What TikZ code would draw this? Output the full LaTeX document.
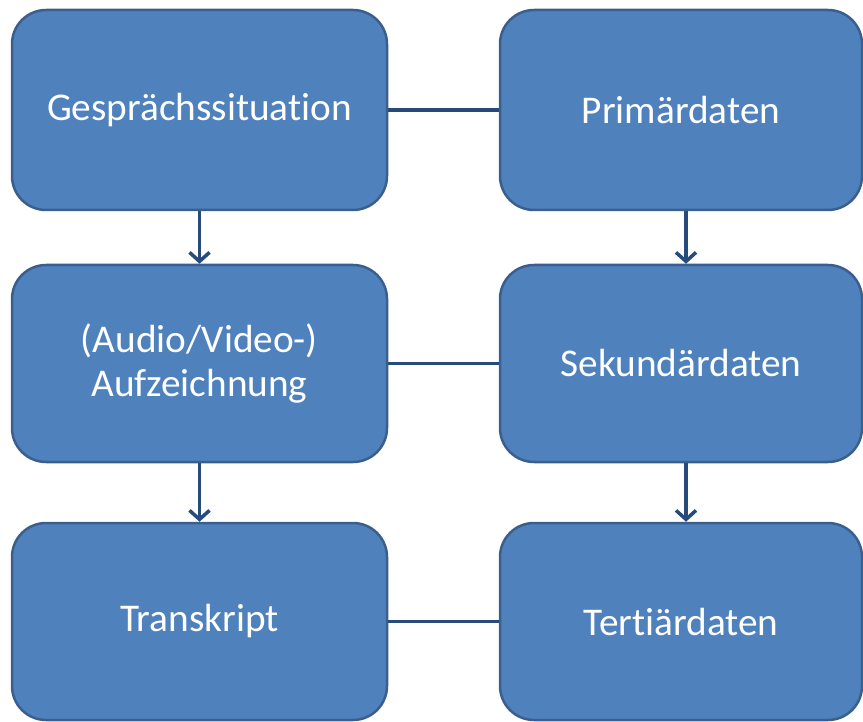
\documentclass[tikz,border=0pt]{standalone}
\usepackage{fontspec}
\setmainfont[Ligatures=NoCommon]{Carlito}
\usetikzlibrary{arrows.meta}
\definecolor{boxfill}{HTML}{4F81BD}
\definecolor{boxline}{HTML}{3A5F8E}
\definecolor{conn}{HTML}{264A7A}
\begin{document}
\begin{tikzpicture}[x=1pt,y=-1pt,
  box/.style={draw=boxline,line width=2.5pt,fill=boxfill,rounded corners=34pt,
    text=white,font=\fontsize{39.3}{44}\selectfont,align=center,inner sep=0pt},
  lbox/.style={box,minimum width=375pt},
  rbox/.style={box,minimum width=362pt},
  link/.style={draw=conn,line width=3.5pt},
  arr/.style={link,-{Straight Barb[length=9pt,width=20pt,line width=3.5pt]}}]
\useasboundingbox (0,0) rectangle (863,722);
\node[lbox,minimum height=200pt] (g) at (199.5,110) {Gesprächssituation};
\node[rbox,minimum height=200pt] (p) at (681,110) {Primärdaten};
\node[lbox,minimum height=197pt] (a) at (199.5,363.5) {(Audio/Video-)\\Aufzeichnung};
\node[rbox,minimum height=197pt] (s) at (681,363.5) {Sekundärdaten};
\node[lbox,minimum height=197pt] (t) at (199.5,621.5) {Transkript};
\node[rbox,minimum height=197pt] (d) at (681,621.5) {Tertiärdaten};
\draw[link] (g.east) -- (p.west);
\draw[link] (a.east) -- (s.west);
\draw[link] (t.east) -- (d.west);
\draw[arr] (g.south) -- (a.north);
\draw[arr] (a.south) -- (t.north);
\draw[arr] ([xshift=5pt]p.south) -- ([xshift=5pt]s.north);
\draw[arr] ([xshift=5pt]s.south) -- ([xshift=5pt]d.north);
\end{tikzpicture}
\end{document}
